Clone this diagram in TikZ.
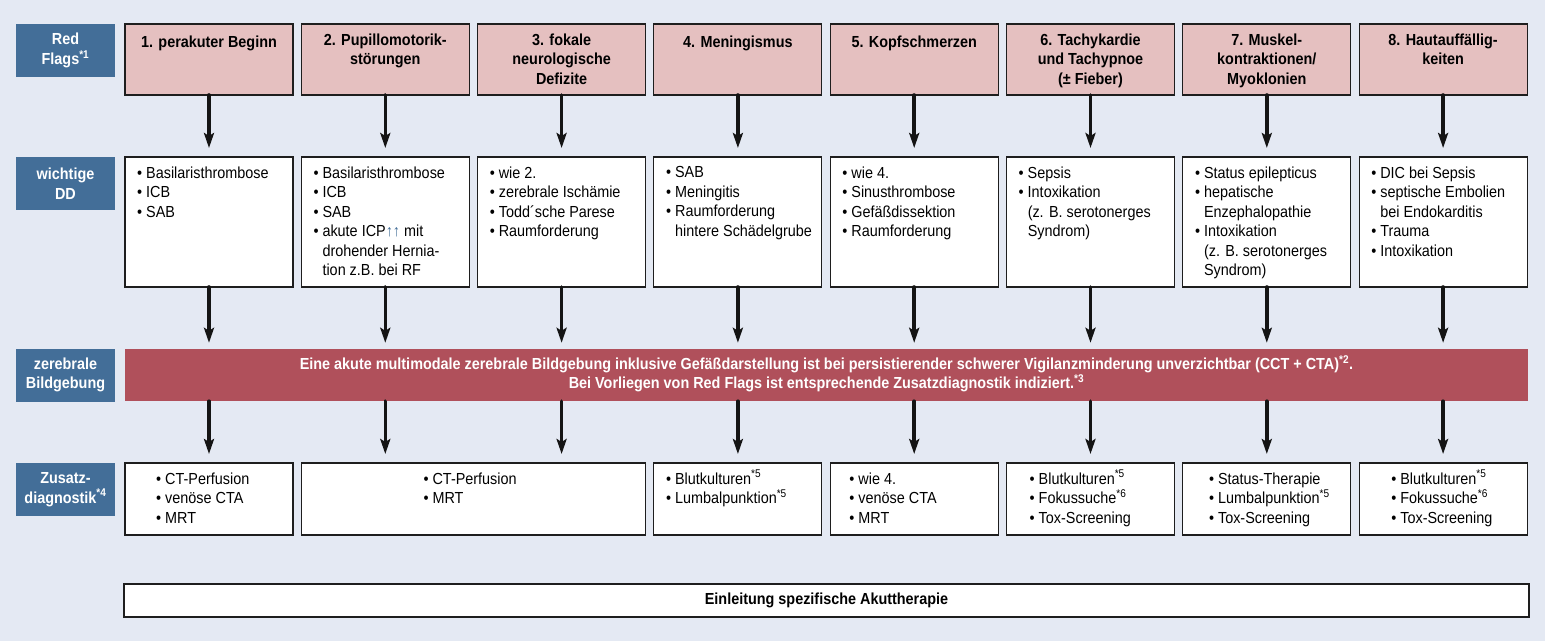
\documentclass[tikz,border=0pt]{standalone}
\usepackage{fontspec}
\setmainfont{Liberation Sans}[FakeStretch=0.9]
\usetikzlibrary{arrows.meta}

\newcommand{\rmtext}{\fontsize{16}{19.5}\selectfont}
\newcommand{\bftext}{\fontsize{16}{19.5}\selectfont\bfseries}
\newcommand{\bu}{\textbullet\ }
\newcommand{\nb}{\phantom{\textbullet\ }}
\newcommand{\fn}[1]{\smash{\textsuperscript{*#1}}}

\begin{document}
\begin{tikzpicture}[x=1pt,y=-1pt,line cap=round]
  \tikzset{
    flagbox/.style={draw=boxline, fill=flagpink, line width=1.1pt, inner sep=0pt, outer sep=0pt,
      minimum width=168pt, minimum height=71pt},
    ddbox/.style={flagbox, fill=white, minimum height=130pt},
    testbox/.style={flagbox, fill=white, minimum height=72pt},
    side/.style={fill=sideblue, text=white, font=\bftext, align=center, inner sep=0pt,
      minimum width=99pt, minimum height=53pt},
    head/.style={anchor=north, inner sep=0pt, align=center, font=\bftext, execute at begin node=\strut},
    items/.style={anchor=north west, inner sep=0pt, align=left, font=\rmtext, execute at begin node=\strut},
    flow/.style={-{Stealth[length=15pt,width=10pt,inset=3pt]}, line width=3.6pt, draw=arrowblack}
  }
  \definecolor{pagebg}{RGB}{228,233,243}
  \definecolor{sideblue}{RGB}{67,110,152}
  \definecolor{flagpink}{RGB}{229,192,192}
  \definecolor{barred}{RGB}{176,80,91}
  \definecolor{boxline}{RGB}{30,30,30}
  \definecolor{arrowblack}{RGB}{20,20,20}

  % Page
  \useasboundingbox (0,0) rectangle (1545,641);
  \fill[pagebg] (0,0) rectangle (1545,641);

  % Row labels
  \node[side] (lflags) at (65.5,50.5) {Red\\Flags\fn{1}};
  \node[side] (ldd) at (65.5,183.5) {wichtige\\DD};
  \node[side] (limg) at (65.5,375) {zerebrale\\Bildgebung};
  \node[side] (ltest) at (65.5,489.5) {Zusatz-\\diagnostik\fn{4}};

  % Red flags
  \node[flagbox] (h1) at (209,59.5) {};
  \node[flagbox] (h2) at (385.3,59.5) {};
  \node[flagbox] (h3) at (561.6,59.5) {};
  \node[flagbox] (h4) at (737.9,59.5) {};
  \node[flagbox] (h5) at (914.2,59.5) {};
  \node[flagbox] (h6) at (1090.5,59.5) {};
  \node[flagbox] (h7) at (1266.8,59.5) {};
  \node[flagbox] (h8) at (1443.1,59.5) {};
  \node[head] (h1t) at ([yshift=-9.4pt]h1.north) {1. perakuter Beginn};
  \node[head] (h2t) at ([yshift=-9.4pt]h2.north) {2. Pupillomotorik-\\störungen};
  \node[head] (h3t) at ([yshift=-9.4pt]h3.north) {3. fokale\\neurologische\\Defizite};
  \node[head] (h4t) at ([yshift=-9.4pt]h4.north) {4. Meningismus};
  \node[head] (h5t) at ([yshift=-9.4pt]h5.north) {5. Kopfschmerzen};
  \node[head] (h6t) at ([yshift=-9.4pt]h6.north) {6. Tachykardie\\und Tachypnoe\\(± Fieber)};
  \node[head] (h7t) at ([yshift=-9.4pt]h7.north) {7. Muskel-\\kontraktionen/\\Myoklonien};
  \node[head] (h8t) at ([yshift=-9.4pt]h8.north) {8. Hautauffällig-\\keiten};

  % Differential diagnoses
  \node[ddbox] (d1) at (209,222) {};
  \node[ddbox] (d2) at (385.3,222) {};
  \node[ddbox] (d3) at (561.6,222) {};
  \node[ddbox] (d4) at (737.9,222) {};
  \node[ddbox] (d5) at (914.2,222) {};
  \node[ddbox] (d6) at (1090.5,222) {};
  \node[ddbox] (d7) at (1266.8,222) {};
  \node[ddbox] (d8) at (1443.1,222) {};
  \node[items] (d1t) at ([xshift=12pt,yshift=-9.4pt]d1.north west)
    {\bu Basilaristhrombose\\\bu ICB\\\bu SAB};
  \node[items] (d2t) at ([xshift=12pt,yshift=-9.4pt]d2.north west)
    {\bu Basilaristhrombose\\\bu ICB\\\bu SAB\\\bu akute ICP{\color{sideblue}↑↑} mit\\\nb drohender Hernia-\\\nb tion z.B. bei RF};
  \node[items] (d3t) at ([xshift=12pt,yshift=-9.4pt]d3.north west)
    {\bu wie 2.\\\bu zerebrale Ischämie\\\bu Todd´sche Parese\\\bu Raumforderung};
  \node[items] (d4t) at ([xshift=12pt,yshift=-9.4pt]d4.north west)
    {\bu SAB\\\bu Meningitis\\\bu Raumforderung\\\nb hintere Schädelgrube};
  \node[items] (d5t) at ([xshift=12pt,yshift=-9.4pt]d5.north west)
    {\bu wie 4.\\\bu Sinusthrombose\\\bu Gefäßdissektion\\\bu Raumforderung};
  \node[items] (d6t) at ([xshift=12pt,yshift=-9.4pt]d6.north west)
    {\bu Sepsis\\\bu Intoxikation\\\nb (z. B. serotonerges\\\nb Syndrom)};
  \node[items] (d7t) at ([xshift=12pt,yshift=-9.4pt]d7.north west)
    {\bu Status epilepticus\\\bu hepatische\\\nb Enzephalopathie\\\bu Intoxikation\\\nb (z. B. serotonerges\\\nb Syndrom)};
  \node[items] (d8t) at ([xshift=12pt,yshift=-9.4pt]d8.north west)
    {\bu DIC bei Sepsis\\\bu septische Embolien\\\nb bei Endokarditis\\\bu Trauma\\\bu Intoxikation};

  % Imaging bar
  \node[fill=barred, text=white, font=\bftext, align=center, inner sep=0pt,
    minimum width=1403pt, minimum height=52pt] (bar) at (826.5,375)
    {Eine akute multimodale zerebrale Bildgebung inklusive Gefäßdarstellung ist bei persistierender schwerer Vigilanzminderung unverzichtbar (CCT + CTA)\fn{2}.\\
     Bei Vorliegen von Red Flags ist entsprechende Zusatzdiagnostik indiziert.\fn{3}};

  % Additional diagnostics
  \node[testbox] (t1) at (209,499) {};
  \node[testbox, minimum width=344.3pt] (t23) at (473.5,499) {};
  \node[testbox] (t4) at (737.9,499) {};
  \node[testbox] (t5) at (914.2,499) {};
  \node[testbox] (t6) at (1090.5,499) {};
  \node[testbox] (t7) at (1266.8,499) {};
  \node[testbox] (t8) at (1443.1,499) {};
  \node[items] (t1t) at ([xshift=31pt,yshift=-9.4pt]t1.north west) {\bu CT-Perfusion\\\bu venöse CTA\\\bu MRT};
  \node[items] (t23t) at ([xshift=122pt,yshift=-9.4pt]t23.north west) {\bu CT-Perfusion\\\bu MRT};
  \node[items] (t4t) at ([xshift=12pt,yshift=-9.4pt]t4.north west)
    {\bu Blutkulturen\fn{5}\\\bu Lumbalpunktion\fn{5}};
  \node[items] (t5t) at ([xshift=19pt,yshift=-9.4pt]t5.north west) {\bu wie 4.\\\bu venöse CTA\\\bu MRT};
  \node[items] (t6t) at ([xshift=23pt,yshift=-9.4pt]t6.north west)
    {\bu Blutkulturen\fn{5}\\\bu Fokussuche\fn{6}\\\bu Tox-Screening};
  \node[items] (t7t) at ([xshift=26pt,yshift=-9.4pt]t7.north west)
    {\bu Status-Therapie\\\bu Lumbalpunktion\fn{5}\\\bu Tox-Screening};
  \node[items] (t8t) at ([xshift=32pt,yshift=-9.4pt]t8.north west)
    {\bu Blutkulturen\fn{5}\\\bu Fokussuche\fn{6}\\\bu Tox-Screening};

  % Therapy
  \node[flagbox, fill=white, font=\bftext, minimum width=1405pt, minimum height=33pt] (ther)
    at (826.5,600.5) {Einleitung spezifische Akuttherapie};

  % Flags to DD
  \draw[flow, shorten >=9pt] (h1) -- (d1);
  \draw[flow, shorten >=9pt] (h2) -- (d2);
  \draw[flow, shorten >=9pt] (h3) -- (d3);
  \draw[flow, shorten >=9pt] (h4) -- (d4);
  \draw[flow, shorten >=9pt] (h5) -- (d5);
  \draw[flow, shorten >=9pt] (h6) -- (d6);
  \draw[flow, shorten >=9pt] (h7) -- (d7);
  \draw[flow, shorten >=9pt] (h8) -- (d8);

  % DD to imaging
  \draw[flow, shorten >=6pt] (d1) -- (d1 |- bar.north);
  \draw[flow, shorten >=6pt] (d2) -- (d2 |- bar.north);
  \draw[flow, shorten >=6pt] (d3) -- (d3 |- bar.north);
  \draw[flow, shorten >=6pt] (d4) -- (d4 |- bar.north);
  \draw[flow, shorten >=6pt] (d5) -- (d5 |- bar.north);
  \draw[flow, shorten >=6pt] (d6) -- (d6 |- bar.north);
  \draw[flow, shorten >=6pt] (d7) -- (d7 |- bar.north);
  \draw[flow, shorten >=6pt] (d8) -- (d8 |- bar.north);

  % Imaging to diagnostics
  \draw[flow, shorten >=9pt] (bar.south -| d1) -- (t1.north -| d1);
  \draw[flow, shorten >=9pt] (bar.south -| d2) -- (t23.north -| d2);
  \draw[flow, shorten >=9pt] (bar.south -| d3) -- (t23.north -| d3);
  \draw[flow, shorten >=9pt] (bar.south -| d4) -- (t4.north -| d4);
  \draw[flow, shorten >=9pt] (bar.south -| d5) -- (t5.north -| d5);
  \draw[flow, shorten >=9pt] (bar.south -| d6) -- (t6.north -| d6);
  \draw[flow, shorten >=9pt] (bar.south -| d7) -- (t7.north -| d7);
  \draw[flow, shorten >=9pt] (bar.south -| d8) -- (t8.north -| d8);
\end{tikzpicture}
\end{document}
